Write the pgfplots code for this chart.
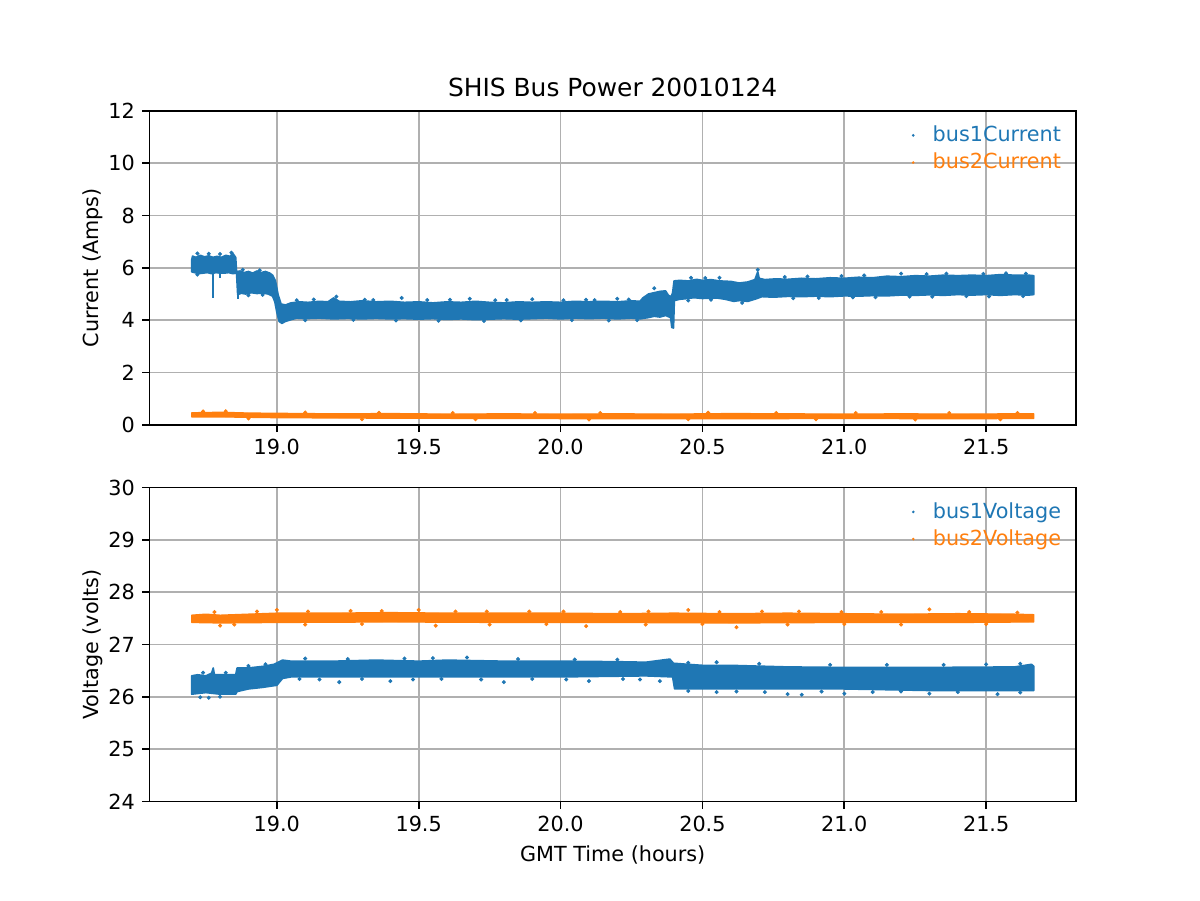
\documentclass[border=0pt]{standalone}
\usepackage{pgfplots}
\pgfplotsset{compat=1.18}
\usepackage{fontspec}
\setmainfont{DejaVu Sans}
\definecolor{c0}{HTML}{1F77B4}
\definecolor{c1}{HTML}{FF7F0E}
\definecolor{gridc}{HTML}{B0B0B0}
\pgfplotsset{
  every axis/.append style={
    /pgf/number format/assume math mode=true,
    scale only axis, width=446.4pt, height=151.2pt,
    xmin=18.551, xmax=21.8165,
    xtick={19.0,19.5,20.0,20.5,21.0,21.5},
    xticklabel style={/pgf/number format/fixed,/pgf/number format/fixed zerofill,/pgf/number format/precision=1},
    tick align=outside, tick pos=left, major tick length=3.5pt,
    every tick/.style={black, line width=0.8pt},
    axis line style={black, line width=0.8pt},
    grid=major, major grid style={gridc, line width=0.8pt},
    tick label style={font=\fontsize{10}{12}\selectfont},
    label style={font=\fontsize{10}{12}\selectfont},
    ylabel style={xshift=0pt, yshift=-4pt},
    legend style={draw=none, fill=none, at={(1,1)}, anchor=north east, xshift=-2pt, yshift=-3pt,
      font=\fontsize{10}{11}\selectfont, row sep=0pt, cells={anchor=west}},
    legend image code/.code={\path[draw=none,fill=none] (0,0) rectangle (0.28cm,0.01cm); \fill[#1,draw=none] (0.02cm,0cm) circle (0.7pt);},
  }
}
\begin{document}
\begin{tikzpicture}
\path[use as bounding box] (0,0) rectangle (578.16pt,433.62pt);
% ---------------- top panel
\begin{axis}[at={(72pt,228.96pt)}, anchor=south west,
  ymin=0, ymax=12, ytick={0,2,4,6,8,10,12},
  ylabel={Current (Amps)},
  title={SHIS Bus Power 20010124}, title style={font=\fontsize{12}{14}\selectfont, yshift=-2.5pt},
]
\addlegendimage{c0}\addlegendentry{\textcolor{c0}{bus1Current}}
\addlegendimage{c1}\addlegendentry{\textcolor{c1}{bus2Current}}
\addplot[forget plot, fill=c0, draw=c0, line width=0.8pt, line join=round] coordinates {
(18.700,6.30)(18.703,6.45)(18.715,6.40)(18.73,6.48)(18.745,6.42)(18.76,6.46)(18.775,6.40)(18.79,6.44)(18.805,6.40)(18.82,6.48)(18.835,6.44)(18.845,6.55)(18.855,6.40)(18.858,5.85)(18.87,5.88)(18.885,5.82)(18.90,5.86)(18.915,5.80)(18.93,5.88)(18.945,5.82)(18.96,5.86)(18.975,5.80)(18.985,5.72)(18.995,5.50)(19.005,4.95)(19.015,4.62)(19.03,4.58)(19.05,4.66)(19.08,4.70)(19.11,4.68)(19.15,4.72)(19.18,4.70)(19.2,4.85)(19.22,4.72)(19.26,4.70)(19.3,4.74)(19.35,4.70)(19.4,4.72)(19.45,4.68)(19.5,4.70)(19.55,4.66)(19.6,4.70)(19.65,4.68)(19.7,4.72)(19.75,4.68)(19.8,4.66)(19.85,4.70)(19.9,4.68)(19.95,4.70)(20.0,4.68)(20.05,4.72)(20.1,4.70)(20.15,4.72)(20.2,4.70)(20.25,4.74)(20.28,4.72)(20.29,4.85)(20.31,5.00)(20.33,5.05)(20.35,5.10)(20.37,5.12)(20.38,4.95)(20.39,4.90)(20.395,5.05)(20.400,5.50)(20.42,5.52)(20.45,5.50)(20.48,5.56)(20.5,5.52)(20.53,5.55)(20.56,5.50)(20.6,5.48)(20.63,5.42)(20.66,5.46)(20.685,5.55)(20.695,5.85)(20.70,5.60)(20.72,5.55)(20.76,5.58)(20.8,5.56)(20.85,5.60)(20.9,5.58)(20.95,5.62)(21.0,5.60)(21.05,5.64)(21.1,5.62)(21.15,5.68)(21.2,5.66)(21.25,5.70)(21.3,5.68)(21.35,5.72)(21.4,5.70)(21.45,5.72)(21.5,5.70)(21.55,5.74)(21.6,5.72)(21.65,5.72)(21.668,5.70)
(21.668,4.98)(21.65,4.96)(21.6,4.98)(21.55,4.95)(21.5,4.98)(21.45,4.96)(21.4,4.98)(21.35,4.95)(21.3,4.97)(21.25,4.95)(21.2,4.96)(21.15,4.93)(21.1,4.94)(21.05,4.92)(21.0,4.93)(20.95,4.90)(20.9,4.92)(20.85,4.90)(20.8,4.91)(20.75,4.88)(20.71,4.90)(20.69,4.82)(20.66,4.72)(20.63,4.75)(20.61,4.72)(20.58,4.80)(20.55,4.85)(20.5,4.83)(20.47,4.86)(20.44,4.82)(20.42,4.80)(20.401,4.75)(20.398,3.70)(20.392,3.72)(20.388,4.10)(20.37,4.18)(20.35,4.12)(20.33,4.15)(20.31,4.10)(20.28,4.05)(20.25,4.08)(20.2,4.05)(20.15,4.08)(20.1,4.06)(20.05,4.08)(20.0,4.05)(19.95,4.08)(19.9,4.06)(19.85,4.04)(19.8,4.06)(19.75,4.04)(19.7,4.02)(19.65,4.05)(19.6,4.03)(19.55,4.06)(19.5,4.04)(19.45,4.06)(19.4,4.05)(19.35,4.07)(19.3,4.05)(19.25,4.07)(19.2,4.05)(19.15,4.08)(19.1,4.06)(19.07,4.08)(19.05,4.02)(19.03,3.95)(19.018,3.88)(19.008,3.95)(19.0,4.30)(18.993,4.70)(18.985,4.92)(18.97,5.00)(18.95,5.04)(18.93,5.02)(18.91,5.05)(18.89,5.00)(18.875,5.03)(18.862,4.98)(18.858,5.80)(18.845,5.78)(18.83,5.82)(18.815,5.80)(18.80,5.80)(18.785,5.82)(18.77,5.78)(18.755,5.82)(18.74,5.80)(18.725,5.78)(18.71,5.82)(18.700,5.85)
} -- cycle;
\addplot[forget plot, c0, line width=1.1pt] coordinates {(18.776,5.85)(18.776,4.85)};
\addplot[forget plot, c0, line width=1.1pt] coordinates {(18.800,5.85)(18.800,5.60)};
\addplot[forget plot, c0, line width=1.1pt] coordinates {(18.864,5.05)(18.864,4.80)};
\addplot[forget plot, only marks, mark=*, mark size=0.75pt, c0] coordinates {
(19.44,4.85)(19.21,4.90)(19.68,4.82)(20.33,5.22)(20.695,5.93)(20.56,5.62)(21.2,5.78)(18.84,6.58)(19.9,4.80)(20.2,4.82)
(19.07,4.76)(19.13,4.79)(19.31,4.78)(19.34,4.77)(19.53,4.77)(19.61,4.78)(19.77,4.76)(19.81,4.77)(20.01,4.76)(20.09,4.78)(20.12,4.77)(20.24,4.79)
(19.1,4.00)(19.27,4.01)(19.42,3.99)(19.57,3.98)(19.73,3.97)(19.86,3.99)(20.04,4.00)(20.17,3.99)(20.27,4.00)
(20.46,5.62)(20.51,5.61)(20.79,5.65)(20.87,5.67)(20.99,5.69)(21.07,5.71)(21.29,5.76)(21.36,5.78)(21.49,5.77)(21.57,5.79)(21.64,5.78)
(20.45,4.75)(20.53,4.78)(20.64,4.66)(20.82,4.84)(20.91,4.85)(21.03,4.87)(21.11,4.88)(21.23,4.90)(21.31,4.90)(21.43,4.92)(21.51,4.91)(21.63,4.92)
(18.72,6.55)(18.76,6.54)(18.80,6.53)(18.88,5.93)(18.94,5.91)(18.72,5.74)(18.90,4.95)(18.95,4.97)
};
\addplot[forget plot, fill=c1, draw=c1, line width=0.6pt, line join=round] coordinates {
(18.70,0.46)(18.8,0.48)(18.9,0.45)(19.0,0.44)(19.2,0.42)(19.4,0.43)(19.6,0.41)(19.8,0.42)(20.0,0.41)(20.2,0.42)(20.4,0.41)(20.6,0.43)(20.8,0.42)(21.0,0.41)(21.2,0.42)(21.4,0.41)(21.6,0.42)(21.668,0.42)
(21.668,0.24)(21.4,0.23)(21.0,0.24)(20.6,0.23)(20.2,0.23)(19.8,0.24)(19.4,0.25)(19.0,0.27)(18.8,0.30)(18.70,0.30)
} -- cycle;
\addplot[forget plot, only marks, mark=*, mark size=0.75pt, c1] coordinates {
(18.74,0.51)(18.82,0.52)(19.1,0.47)(19.36,0.46)(19.62,0.45)(19.91,0.45)(20.14,0.45)(20.52,0.46)(20.76,0.45)(21.04,0.45)(21.37,0.45)(21.61,0.45)
(18.9,0.24)(19.3,0.21)(19.7,0.21)(20.1,0.20)(20.45,0.21)(20.9,0.21)(21.25,0.20)(21.55,0.21)
};
\end{axis}
% ---------------- bottom panel
\begin{axis}[at={(72pt,47.52pt)}, anchor=south west,
  ymin=24, ymax=30, ytick={24,25,26,27,28,29,30},
  ylabel={Voltage (volts)}, xlabel={GMT Time (hours)},
]
\addlegendimage{c0}\addlegendentry{\textcolor{c0}{bus1Voltage}}
\addlegendimage{c1}\addlegendentry{\textcolor{c1}{bus2Voltage}}
\addplot[forget plot, fill=c1, draw=c1, line width=0.6pt, line join=round] coordinates {
(18.70,27.56)(18.75,27.58)(18.8,27.56)(18.9,27.58)(19.0,27.60)(19.2,27.60)(19.4,27.61)(19.6,27.60)(19.8,27.60)(20.0,27.60)(20.2,27.59)(20.4,27.60)(20.6,27.59)(20.8,27.60)(21.0,27.59)(21.2,27.58)(21.4,27.59)(21.6,27.58)(21.668,27.57)
(21.668,27.43)(21.4,27.42)(21.0,27.42)(20.6,27.41)(20.2,27.42)(19.8,27.42)(19.4,27.43)(19.0,27.42)(18.8,27.41)(18.70,27.42)
} -- cycle;
\addplot[forget plot, only marks, mark=*, mark size=0.75pt, c1] coordinates {
(19.0,27.66)(19.5,27.66)(20.45,27.66)(20.62,27.33)(20.09,27.35)(19.56,27.36)(21.3,27.67)(18.8,27.36)
(18.78,27.62)(18.93,27.63)(19.11,27.63)(19.26,27.64)(19.37,27.64)(19.63,27.63)(19.74,27.63)(19.89,27.63)(20.01,27.63)(20.21,27.62)(20.31,27.63)(20.56,27.62)(20.71,27.63)(20.84,27.63)(20.99,27.62)(21.13,27.62)(21.44,27.62)(21.61,27.61)
(18.85,27.38)(19.1,27.38)(19.3,27.39)(19.75,27.38)(19.95,27.39)(20.3,27.38)(20.5,27.39)(20.8,27.38)(21.0,27.39)(21.2,27.38)(21.5,27.39)
};
\addplot[forget plot, fill=c0, draw=c0, line width=0.8pt, line join=round] coordinates {
(18.700,26.40)(18.72,26.42)(18.75,26.40)(18.77,26.45)(18.776,26.55)(18.78,26.42)(18.82,26.42)(18.855,26.42)(18.86,26.55)(18.9,26.55)(18.95,26.58)(18.99,26.62)(19.02,26.70)(19.05,26.68)(19.2,26.68)(19.35,26.70)(19.5,26.68)(19.6,26.70)(19.8,26.68)(20.0,26.68)(20.2,26.67)(20.3,26.66)(20.385,26.72)(20.398,26.64)(20.5,26.60)(20.6,26.60)(20.8,26.57)(21.0,26.56)(21.3,26.56)(21.6,26.57)(21.66,26.62)(21.668,26.58)
(21.668,26.12)(21.6,26.12)(21.3,26.12)(21.0,26.15)(20.7,26.15)(20.5,26.15)(20.402,26.15)(20.395,26.38)(20.3,26.40)(20.0,26.38)(19.5,26.38)(19.05,26.38)(19.02,26.35)(19.00,26.22)(18.95,26.18)(18.90,26.15)(18.86,26.10)(18.855,26.05)(18.82,26.05)(18.80,26.05)(18.75,26.08)(18.70,26.05)
} -- cycle;
\addplot[forget plot, only marks, mark=*, mark size=0.75pt, c0] coordinates {
(18.76,25.98)(18.73,25.99)(18.80,26.00)(19.22,26.28)(19.4,26.30)(19.8,26.28)(20.1,26.30)(20.35,26.30)(20.8,26.05)(20.85,26.04)(21.0,26.06)(21.3,26.06)(21.54,26.05)(19.67,26.75)
(19.08,26.34)(19.15,26.33)(19.3,26.34)(19.48,26.33)(19.58,26.34)(19.72,26.33)(19.9,26.34)(20.02,26.33)(20.22,26.34)(20.28,26.33)
(20.45,26.11)(20.55,26.09)(20.62,26.10)(20.72,26.09)(20.92,26.10)(21.1,26.09)(21.2,26.10)(21.4,26.09)(21.62,26.08)
(19.1,26.73)(19.25,26.72)(19.45,26.73)(19.55,26.74)(19.85,26.72)(20.05,26.71)(20.2,26.71)
(20.45,26.65)(20.55,26.66)(20.7,26.63)(20.95,26.61)(21.15,26.61)(21.35,26.61)(21.5,26.62)(21.62,26.63)
(18.74,26.46)(18.82,26.46)(18.9,26.59)(18.96,26.62)
};
\end{axis}
\end{tikzpicture}
\end{document}
